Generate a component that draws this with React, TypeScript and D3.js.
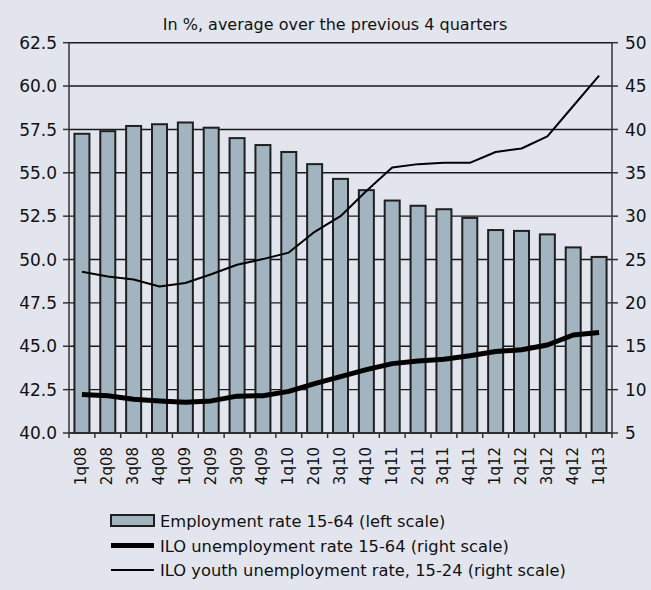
import React from "react";
import * as d3 from "d3";

const categories = ["1q08","2q08","3q08","4q08","1q09","2q09","3q09","4q09","1q10","2q10","3q10","4q10","1q11","2q11","3q11","4q11","1q12","2q12","3q12","4q12","1q13"];
const employment = [57.25, 57.4, 57.7, 57.8, 57.9, 57.6, 57.0, 56.6, 56.2, 55.5, 54.65, 54.0, 53.4, 53.1, 52.9, 52.4, 51.7, 51.65, 51.45, 50.7, 50.15];
const unemployment = [9.45, 9.3, 8.9, 8.7, 8.55, 8.7, 9.25, 9.3, 9.8, 10.7, 11.5, 12.3, 13.0, 13.3, 13.5, 13.9, 14.4, 14.6, 15.15, 16.3, 16.6];
const youth = [23.6, 23.05, 22.7, 21.9, 22.3, 23.3, 24.4, 25.05, 25.8, 28.2, 30.0, 32.9, 35.6, 36.0, 36.15, 36.15, 37.4, 37.8, 39.2, 42.7, 46.2];
const leftTicks = [40, 42.5, 45, 47.5, 50, 52.5, 55, 57.5, 60, 62.5];
const rightTicks = [5, 10, 15, 20, 25, 30, 35, 40, 45, 50];
const title = "In %, average over the previous 4 quarters";
const legendLabels = [
  "Employment rate 15-64 (left scale)",
  "ILO unemployment rate 15-64 (right scale)",
  "ILO youth unemployment rate, 15-24 (right scale)",
];

const W = 651, H = 590;
const L = 69, R = 612, T = 42.7, B = 433;
const FONT = "'DejaVu Sans', sans-serif";

export default function App() {
  const pad = 0.42;
  const x = d3.scaleBand<string>().domain(categories).range([L, R]).paddingInner(pad).paddingOuter(pad / 2);
  const step = x.step();
  const bw = x.bandwidth();
  const yL = d3.scaleLinear().domain([40, 62.5]).range([B, T]);
  const yR = d3.scaleLinear().domain([5, 50]).range([B, T]);
  const cx = (c: string) => (x(c) as number) + bw / 2;
  const line = (vals: number[]) =>
    d3.line<number>().x((_, i) => cx(categories[i])).y((v) => yR(v))(vals) as string;
  const boundaries = d3.range(categories.length + 1).map((i) => L + i * step);

  return (
    <svg width={W} height={H} style={{ position: "fixed", left: 0, top: 0 }} fontFamily={FONT}>
      <rect x={0} y={0} width={W} height={H} fill="#e2e5ee" />
      <text x={335} y={30} fontSize={16} textAnchor="middle" fill="#111">{title}</text>
      {/* gridlines */}
      {leftTicks.map((t) => (
        <line key={"g" + t} x1={L} x2={R} y1={yL(t)} y2={yL(t)} stroke="#1a1a1a" strokeWidth={1.4} />
      ))}
      {/* bars */}
      {categories.map((c, i) => (
        <rect key={c} x={x(c)} y={yL(employment[i])} width={bw} height={B - yL(employment[i])}
          fill="#a2b4bf" stroke="#1f1f1f" strokeWidth={2} />
      ))}
      {/* axes */}
      <line x1={L} x2={L} y1={T} y2={B} stroke="#333" strokeWidth={1.5} />
      <line x1={R} x2={R} y1={T} y2={B} stroke="#333" strokeWidth={1.5} />
      <line x1={L} x2={R} y1={B} y2={B} stroke="#333" strokeWidth={1.5} />
      {leftTicks.map((t) => (
        <g key={"l" + t}>
          <line x1={L - 6} x2={L} y1={yL(t)} y2={yL(t)} stroke="#333" strokeWidth={1.5} />
          <text x={57} y={yL(t)} dy="0.36em" fontSize={17} textAnchor="end" fill="#111">{t.toFixed(1)}</text>
        </g>
      ))}
      {rightTicks.map((t) => (
        <g key={"r" + t}>
          <line x1={R} x2={R + 6} y1={yR(t)} y2={yR(t)} stroke="#333" strokeWidth={1.5} />
          <text x={625} y={yR(t)} dy="0.36em" fontSize={17} textAnchor="start" fill="#111">{t}</text>
        </g>
      ))}
      {boundaries.map((bx, i) => (
        <line key={"b" + i} x1={bx} x2={bx} y1={B} y2={B + 5} stroke="#333" strokeWidth={1.5} />
      ))}
      {categories.map((c) => (
        <text key={"x" + c} transform={`translate(${cx(c)},447) rotate(-90)`} dy="0.3em" fontSize={15}
          textAnchor="end" fill="#111">{c}</text>
      ))}
      {/* lines */}
      <path d={line(youth)} fill="none" stroke="#000" strokeWidth={2} strokeLinejoin="round" />
      <path d={line(unemployment)} fill="none" stroke="#000" strokeWidth={5} strokeLinejoin="round" />
      {/* legend */}
      <rect x={111} y={515} width={43} height={11} fill="#a2b4bf" stroke="#1f1f1f" strokeWidth={2} />
      <line x1={111} x2={154} y1={545.5} y2={545.5} stroke="#000" strokeWidth={5} />
      <line x1={111} x2={154} y1={570} y2={570} stroke="#000" strokeWidth={2} />
      {legendLabels.map((l, i) => (
        <text key={l} x={160} y={527 + i * 24.5} fontSize={16.3} fill="#111">{l}</text>
      ))}
    </svg>
  );
}
